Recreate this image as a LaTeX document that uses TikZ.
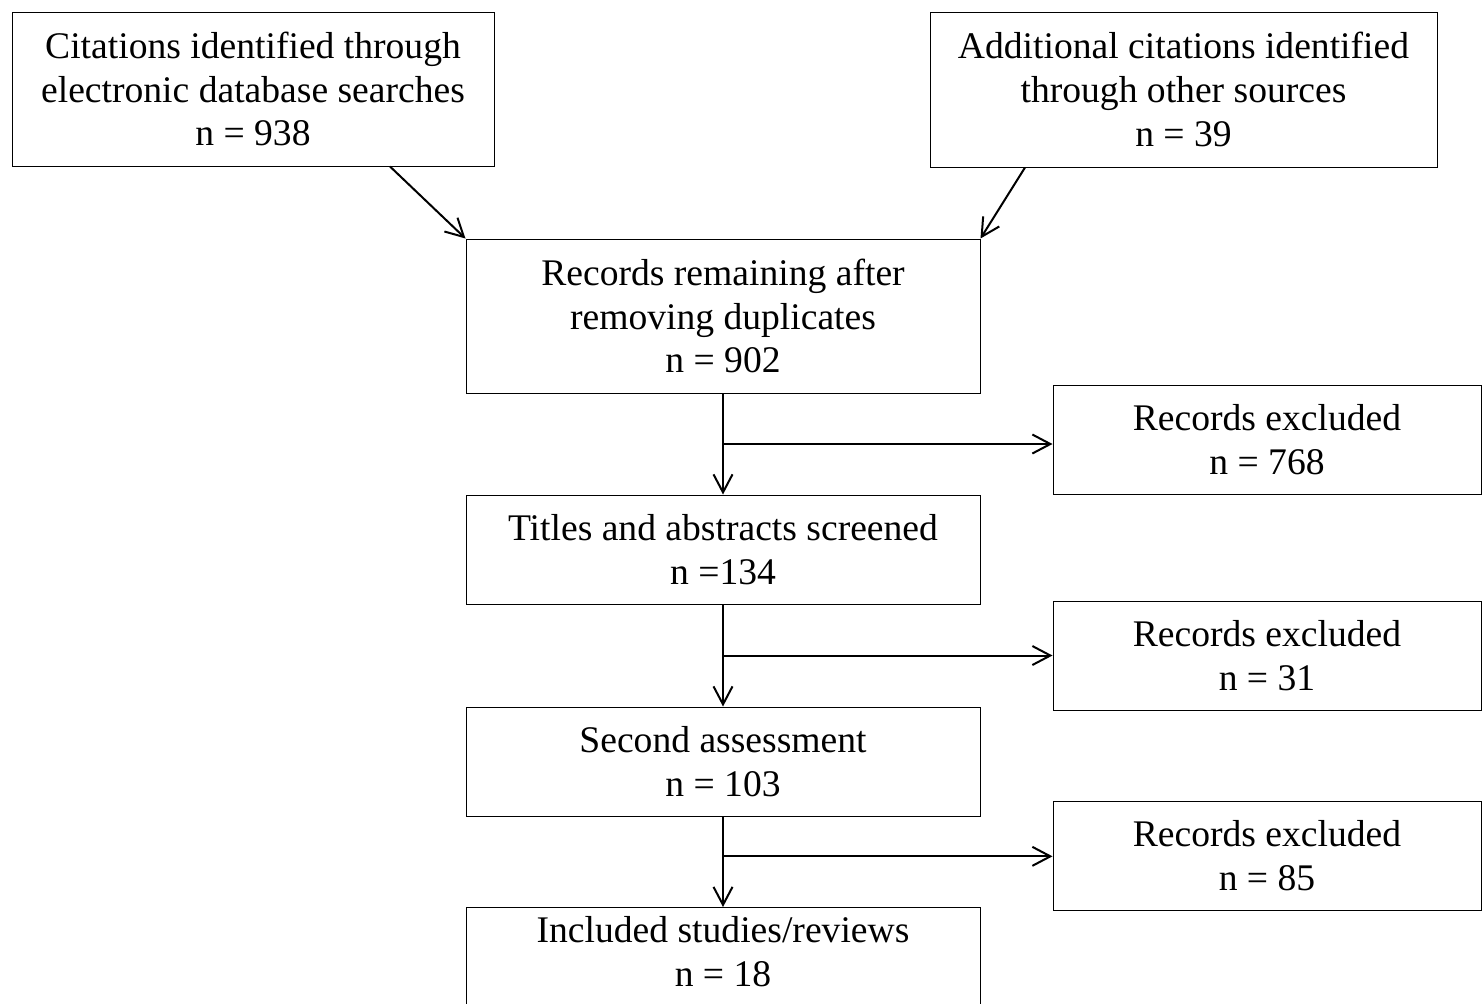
\documentclass[tikz,border=0pt]{standalone}
\usepackage{fontspec}
\setmainfont{Liberation Serif}
\usetikzlibrary{arrows.meta, positioning, calc}

\begin{document}
\begin{tikzpicture}[x=0.5pt, y=-0.5pt,
    box/.style={draw, line width=0.5pt, align=center, inner sep=0pt,
                font=\fontsize{18.8}{21.8}\selectfont},
    arr/.style={-{Straight Barb[length=9pt, width=9.5pt]}, line width=1pt}]
  \useasboundingbox (0,0) rectangle (1482,1003);
  \clip (0,0) rectangle (1482,1003);
  % sources
  \node[box, minimum width=241pt, minimum height=77pt] (A) at (253,89)
    {Citations identified through\\electronic database searches\\n = 938};
  \node[box, minimum width=253.5pt, minimum height=77.5pt] (B) at (1183.5,89.5)
    {Additional citations identified\\through other sources\\n = 39};
  % main column
  \node[box, minimum width=257pt, minimum height=77pt] (C) at (723,316)
    {Records remaining after\\removing duplicates\\n = 902};
  \node[box, minimum width=257pt, minimum height=54.5pt] (D) at (723,549.5)
    {Titles and abstracts screened\\n =134};
  \node[box, minimum width=257pt, minimum height=54.5pt] (F) at (723,761.5)
    {Second assessment\\n = 103};
  \node[box, minimum width=257pt, inner ysep=4.5pt, text depth=40pt, anchor=north] (G) at (723,907)
    {Included studies/reviews\\n = 18};
  % exclusions
  \node[box, minimum width=214pt, minimum height=54.5pt] (E1) at (1267,439.5)
    {Records excluded\\n = 768};
  \node[box, minimum width=214pt, minimum height=54.5pt] (E2) at (1267,655.5)
    {Records excluded\\n = 31};
  \node[box, minimum width=214pt, minimum height=54.5pt] (E3) at (1267,855.5)
    {Records excluded\\n = 85};
  % arrows
  \draw[arr] ($(A.south)+(137,0)$) -- (C.north west);
  \draw[arr] ($(B.south)+(-158.5,0)$) -- (C.north east);
  \foreach \from/\to/\ex/\pos in {C/D/E1/0.5, D/F/E2/0.5, F/G/E3/0.44}{
    \draw[arr] (\from.south) -- (\to.north);
    \coordinate (m\ex) at ($(\from.south)!\pos!(\to.north)$);
    \draw[arr] (m\ex) -- (m\ex -| \ex.west);
  }
\end{tikzpicture}
\end{document}
